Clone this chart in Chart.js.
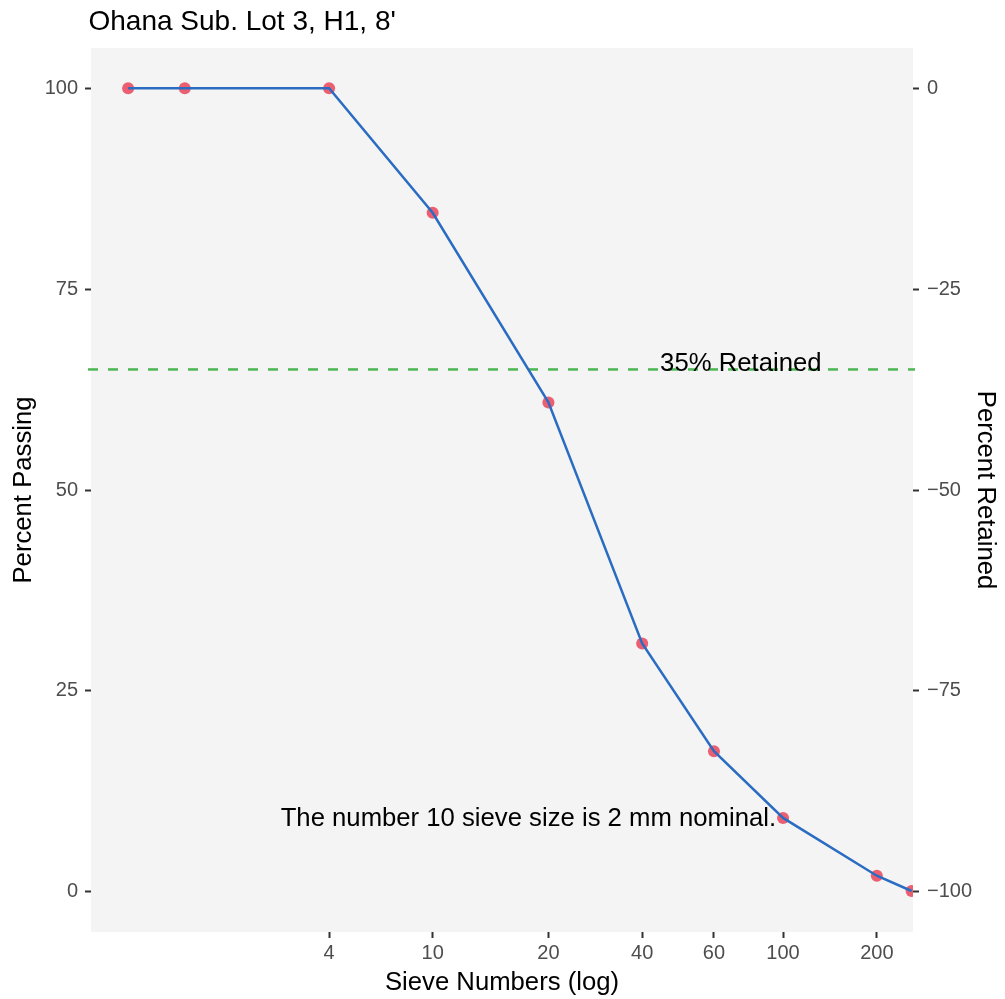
<!DOCTYPE html>
<html><head><meta charset="utf-8">
<script src="https://cdn.jsdelivr.net/npm/chart.js@4"></script>
<style>html,body{margin:0;padding:0;background:#fff}#wrap{width:1005px;height:999px}</style>
</head><body><div id="wrap"><canvas id="c" width="1005" height="999"></canvas></div>
<script>
// ---- data ----
const sieveNames = ['3/4"', '1/2"', '4', '10', '20', '40', '60', '100', '200', 'Pan'];
const openingMm = [19, 12.5, 4.3, 2, 0.85, 0.425, 0.25, 0.15, 0.075, 0.058];
const percentPassing = [100, 100, 100, 84.5, 60.9, 30.9, 17.5, 9.2, 2.0, 0.1];
const tickSieves = ['4', '10', '20', '40', '60', '100', '200'];
const tickOpenings = [4.3, 2, 0.85, 0.425, 0.25, 0.15, 0.075];
const passingTicks = [0, 25, 50, 75, 100];
const retainedTicks = [0, -25, -50, -75, -100];
const retainedLinePassing = 65;
const titleText = "Ohana Sub. Lot 3, H1, 8'";
const retainedLabel = '35% Retained';
const noteLabel = 'The number 10 sieve size is 2 mm nominal.';

const FONT = "'Liberation Sans', Arial, sans-serif";
const points = openingMm.map((v, i) => ({x: v, y: percentPassing[i]}));

const decor = {
  id: 'decor',
  beforeDraw(chart) {
    const {ctx, chartArea: a} = chart;
    ctx.save();
    ctx.fillStyle = '#f4f4f4';
    ctx.fillRect(a.left, a.top, a.right - a.left, a.bottom - a.top);
    ctx.restore();
  },
  beforeDatasetsDraw(chart) {
    const {ctx, chartArea: a, scales} = chart;
    const y = scales.y.getPixelForValue(retainedLinePassing);
    ctx.save();
    ctx.strokeStyle = '#4cb753';
    ctx.lineWidth = 2.5;
    ctx.setLineDash([10, 10]);
    ctx.beginPath();
    ctx.moveTo(a.left - 3, y);
    ctx.lineTo(a.right + 2, y);
    ctx.stroke();
    ctx.restore();
  },
  afterDraw(chart) {
    const {ctx, scales} = chart;
    ctx.save();
    ctx.fillStyle = '#000';
    ctx.font = '28px ' + FONT;
    ctx.textAlign = 'left';
    ctx.textBaseline = 'alphabetic';
    ctx.fillText(titleText, 88.5, 30);
    ctx.font = '25.7px ' + FONT;
    ctx.textAlign = 'center';
    ctx.textBaseline = 'middle';
    ctx.fillText(retainedLabel, scales.x.getPixelForValue(0.205), scales.y.getPixelForValue(65.7));
    ctx.textAlign = 'right';
    ctx.fillText(noteLabel, scales.x.getPixelForValue(0.15) - 7, scales.y.getPixelForValue(9.1));
    ctx.restore();
  }
};

const tickGrid = {drawOnChartArea: false, drawTicks: true, tickLength: 6, tickWidth: 2, tickColor: '#333'};
const tickFont = {family: FONT, size: 20};
const titleFont = {family: FONT, size: 25.7};

new Chart(document.getElementById('c'), {
  type: 'line',
  data: {
    datasets: [
      {
        label: 'Passing (line)',
        data: points,
        borderColor: '#2a6cc2',
        borderWidth: 2.5,
        pointRadius: 0,
        tension: 0,
        fill: false,
        order: 1
      },
      {
        label: 'Passing (points)',
        data: points,
        showLine: false,
        pointRadius: 6,
        pointBackgroundColor: 'rgba(233,68,88,0.85)',
        pointBorderWidth: 0,
        order: 2
      }
    ]
  },
  options: {
    responsive: false,
    animation: false,
    layout: {padding: {top: 48, left: 0, right: 0, bottom: 0}},
    plugins: {legend: {display: false}, tooltip: {enabled: false}, title: {display: false}},
    scales: {
      x: {
        type: 'logarithmic',
        reverse: true,
        min: 0.0574,
        max: 25,
        afterBuildTicks: s => { s.ticks = tickOpenings.map(v => ({value: v})); },
        afterFit: s => { s.height = 67; },
        ticks: {
          autoSkip: false, maxRotation: 0, minRotation: 0, padding: 3,
          font: tickFont, color: '#4d4d4d',
          callback: (v, i) => tickSieves[i]
        },
        grid: tickGrid,
        border: {display: false},
        title: {display: true, text: 'Sieve Numbers (log)', font: titleFont, color: '#000', padding: {top: 0, bottom: 1}}
      },
      y: {
        type: 'linear',
        position: 'left',
        min: -5,
        max: 105,
        afterBuildTicks: s => { s.ticks = passingTicks.map(v => ({value: v})); },
        afterFit: s => { s.width = 91; },
        ticks: {font: tickFont, color: '#4d4d4d', padding: 7},
        grid: tickGrid,
        border: {display: false},
        title: {display: true, text: 'Percent Passing', font: titleFont, color: '#000', padding: {top: 8, bottom: 0}}
      },
      y2: {
        type: 'linear',
        position: 'right',
        min: -105,
        max: 5,
        afterBuildTicks: s => { s.ticks = retainedTicks.map(v => ({value: v})); },
        afterFit: s => { s.width = 92; },
        ticks: {
          font: tickFont, color: '#4d4d4d', padding: 8,
          callback: v => (v < 0 ? '\u2212' + Math.abs(v) : String(v))
        },
        grid: tickGrid,
        border: {display: false},
        title: {display: true, text: 'Percent Retained', font: titleFont, color: '#000', padding: {top: 4, bottom: 0}}
      }
    }
  },
  plugins: [decor]
});
</script>
</body></html>
